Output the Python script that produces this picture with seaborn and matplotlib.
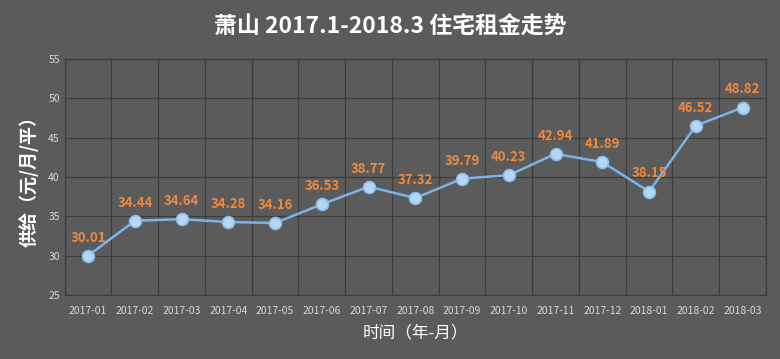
import matplotlib
matplotlib.use("Agg")
import matplotlib.pyplot as plt
import numpy as np
import pandas as pd
import seaborn as sns

# 월별 임대료 데이터
months = ["2017-01", "2017-02", "2017-03", "2017-04", "2017-05", "2017-06", "2017-07",
          "2017-08", "2017-09", "2017-10", "2017-11", "2017-12", "2018-01", "2018-02", "2018-03"]
rent = [30.01, 34.44, 34.64, 34.28, 34.16, 36.53, 38.77, 37.32, 39.79, 40.23,
        42.94, 41.89, 38.15, 46.52, 48.82]
y_ticks = [25, 30, 35, 40, 45, 50, 55]

df = pd.DataFrame({"month": months, "rent": rent})

sns.set_style("dark")
plt.rcParams["font.family"] = ["Noto Sans CJK SC", "DejaVu Sans"]

bg = "#5b5b5b"
fig = plt.figure(figsize=(7.8, 3.59), dpi=100, facecolor=bg)
ax = fig.add_axes([0.083, 0.178, 0.899, 0.658])
ax.set_facecolor(bg)

sns.lineplot(data=df, x="month", y="rent", ax=ax, sort=False, color="#7db3e6",
             linewidth=1.8, marker="o", markersize=8.5, markerfacecolor="#b5d6f5",
             markeredgecolor="#8fc0ec", markeredgewidth=1.2, zorder=3)

for i, v in enumerate(rent):
    ax.annotate(f"{v:.2f}", (i, v), xytext=(0, 8), textcoords="offset points",
                ha="center", va="bottom", color="#f0883e", fontsize=9.5,
                fontweight="bold", zorder=4)

ax.set_xlim(-0.5, len(months) - 0.5)
ax.set_ylim(25, 55)
ax.set_yticks(y_ticks)
ax.set_xticks(range(len(months)))
ax.set_xticklabels(months)
ax.set_xticks(np.arange(-0.5, len(months), 1), minor=True)
ax.grid(False)
ax.grid(True, which="minor", axis="x", color="#3c3c3c", linewidth=0.9)
ax.grid(True, which="major", axis="y", color="#3c3c3c", linewidth=0.9)
ax.tick_params(axis="both", which="both", length=0, colors="#d8d8d8", labelsize=7.5)
ax.tick_params(axis="x", pad=8)
for s in ax.spines.values():
    s.set_visible(True)
    s.set_color("#3c3c3c")
    s.set_linewidth(0.9)

ax.set_xlabel("时间（年-月）", color="white", fontsize=12, labelpad=6)
ax.set_ylabel("供给（元/月/平）", color="white", fontsize=13, fontweight="bold", labelpad=7)

fig.text(0.5, 0.925, "萧山 2017.1-2018.3 住宅租金走势", ha="center", va="center",
         color="white", fontsize=16.5, fontweight="bold")

fig.savefig("out.png", dpi=100, facecolor=bg)
